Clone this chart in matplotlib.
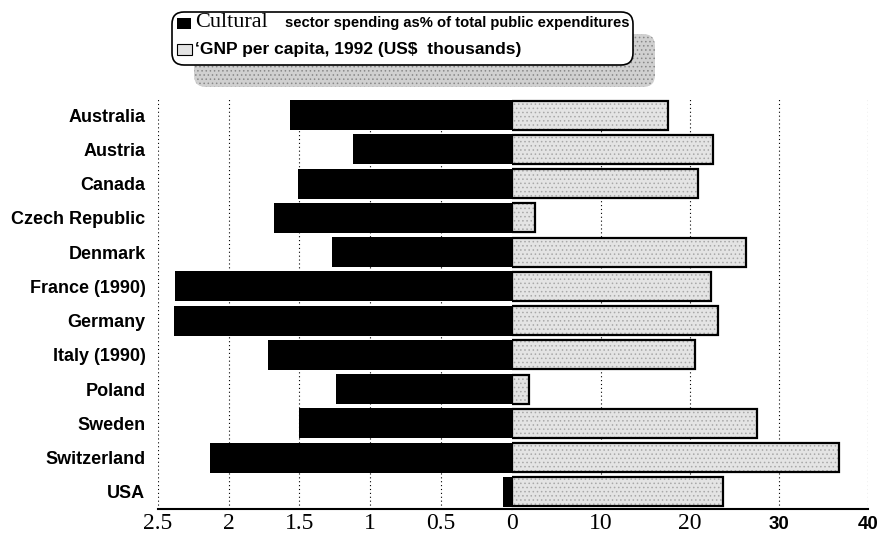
import matplotlib.pyplot as plt
from matplotlib.patches import FancyBboxPatch, Rectangle

# Dados
countries = ["Australia", "Austria", "Canada", "Czech Republic", "Denmark",
             "France (1990)", "Germany", "Italy (1990)", "Poland", "Sweden",
             "Switzerland", "USA"]
culture_share = [1.57, 1.12, 1.51, 1.68, 1.27, 2.38, 2.39, 1.72, 1.24, 1.50, 2.13, 0.06]
gnp_per_capita = [17.6, 22.6, 20.9, 2.6, 26.3, 22.4, 23.2, 20.6, 1.9, 27.5, 36.7, 23.7]

left_ticks = [2.5, 2, 1.5, 1, 0.5, 0]
left_labels = ["2.5", "2", "1.5", "1", "0.5", "0"]
right_ticks = [10, 20, 30, 40]
right_labels = ["10", "20", "30", "40"]

plt.rcParams["hatch.linewidth"] = 0.6

W, H = 881, 539
fig = plt.figure(figsize=(W / 100, H / 100), dpi=100)

x0, xmid, x1 = 158, 511.7, 868
ytop, ybot = 98, 509
b = 1 - ybot / H
h = (ybot - ytop) / H
axL = fig.add_axes([x0 / W, b, (xmid - x0) / W, h])
axR = fig.add_axes([xmid / W, b, (x1 - xmid) / W, h])

pos = list(range(len(countries)))
axL.barh(pos, culture_share, height=0.87, color="black", zorder=3)
# preenchimento pontilhado cinza + contorno preto
axR.barh(pos, gnp_per_capita, height=0.85, facecolor="#e4e4e4",
         edgecolor="#a8a8a8", hatch="....", linewidth=0, zorder=3)
axR.barh(pos, gnp_per_capita, height=0.85, fill=False,
         edgecolor="black", linewidth=1.6, zorder=4)

axL.set_xlim(2.5, 0)
axR.set_xlim(0, 40)
for ax in (axL, axR):
    ax.set_ylim(11.5, -0.5)
    for s in ("top", "left", "right"):
        ax.spines[s].set_visible(False)
    ax.spines["bottom"].set_linewidth(1.5)
    ax.tick_params(axis="x", length=0, pad=3)
    ax.grid(axis="x", color="black", linestyle=(0, (1, 2.5)), linewidth=0.8, zorder=0)

axL.set_yticks(pos)
axL.set_yticklabels(countries, fontfamily="Liberation Sans", fontweight="bold", fontsize=13)
axL.tick_params(axis="y", length=0, pad=9)
axR.set_yticks([])

axL.set_xticks(left_ticks)
axL.set_xticklabels(left_labels, fontfamily="Liberation Serif", fontsize=17)
axR.set_xticks(right_ticks)
axR.set_xticklabels(right_labels, fontfamily="Liberation Serif", fontsize=17)
for lab in axR.get_xticklabels():
    if lab.get_text() in ("30", "40"):
        lab.set_fontfamily("Liberation Sans")
        lab.set_fontweight("bold")
        lab.set_fontsize(13.5)
        lab.set_y(-0.008)
axL.xaxis.get_gridlines()[-1].set_visible(False)

# Legenda em caixa arredondada com sombra
tr = fig.dpi_scale_trans
shadow = FancyBboxPatch((1.94, 4.52), 4.61, 0.53, boxstyle="round,pad=0,rounding_size=0.12",
                        transform=tr, facecolor="#d0d0d0", edgecolor="#888888",
                        hatch="....", linewidth=0)
box = FancyBboxPatch((1.72, 4.74), 4.61, 0.53, boxstyle="round,pad=0,rounding_size=0.12",
                     transform=tr, facecolor="white", edgecolor="black", linewidth=1.2)
fig.patches.extend([shadow, box])
fig.patches.append(Rectangle((1.77, 5.10), 0.14, 0.11, transform=tr, facecolor="black"))
fig.patches.append(Rectangle((1.77, 4.84), 0.15, 0.11, transform=tr,
                             facecolor="#e4e4e4", edgecolor="black", linewidth=0.8))

fig.text(1.95, 5.12, "Cultural", transform=tr, fontfamily="Liberation Serif",
         fontsize=16, va="baseline")
fig.text(2.85, 5.12, "sector spending as% of total public expenditures", transform=tr,
         fontfamily="Liberation Sans", fontweight="bold", fontsize=10.6, va="baseline")
fig.text(1.95, 4.85, "\u2018GNP per capita, 1992 (US$  thousands)", transform=tr,
         fontfamily="Liberation Sans", fontweight="bold", fontsize=12.5, va="baseline")

fig.savefig("out.png", dpi=100)
